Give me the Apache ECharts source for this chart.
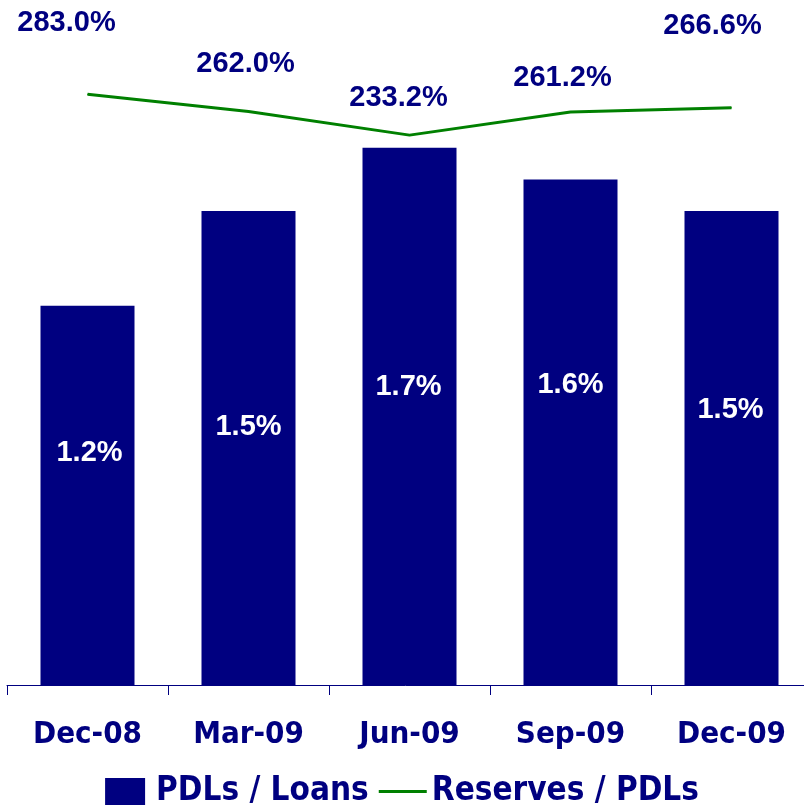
<!DOCTYPE html>
<html>
<head>
<meta charset="utf-8">
<script src="https://cdn.jsdelivr.net/npm/echarts@6/dist/echarts.min.js"></script>
<style>
  html, body { margin: 0; padding: 0; background: #fff; }
  #chart { width: 804px; height: 807px; }
</style>
</head>
<body>
<div id="chart"></div>
<script>
// 数据
const quarters = ['Dec-08', 'Mar-09', 'Jun-09', 'Sep-09', 'Dec-09'];
const pdlsLoans = [1.2, 1.5, 1.7, 1.6, 1.5];
const reservesPdls = [283.0, 262.0, 233.2, 261.2, 266.6];

// 标签偏移（仅用于布局）
const barLabelOffsets = [[2, -42], [0, -21], [-1, -29], [0, -47], [-1, -38]];
const lineLabelOffsets = [[-21, -71], [-3, -47], [-11, -37], [-8, -34], [-19, -82]];

const navy = '#000080';
const green = '#008000';
const labelFont = 'Liberation Sans, Arial, sans-serif';
const axisFont = 'DejaVu Sans Condensed, DejaVu Sans, sans-serif';

function initChart() {
    const chart = echarts.init(document.getElementById('chart'));

    const option = {
        animation: false,
        grid: { left: 7, width: 805, top: 53, bottom: 122, outerBoundsMode: 'none' },
        legend: {
            bottom: -6,
            left: 'center',
            itemWidth: 48,
            itemHeight: 27,
            itemGap: 10,
            textStyle: { color: navy, fontFamily: axisFont, fontWeight: 'bold', fontSize: 33 },
            data: [
                { name: 'PDLs / Loans', icon: 'path://M0,0 L40,0 L40,27 L0,27 Z M44,0' },
                { name: 'Reserves / PDLs', icon: 'path://M0,0 M0,12 L48,12 L48,15 L0,15 Z M48,27' }
            ]
        },
        xAxis: {
            type: 'category',
            data: quarters,
            axisLine: { lineStyle: { color: navy, width: 1 } },
            axisTick: { show: true, length: 10, lineStyle: { color: navy, width: 1 } },
            axisLabel: {
                margin: 34,
                color: navy,
                fontFamily: axisFont,
                fontWeight: 'bold',
                fontSize: 31
            }
        },
        yAxis: [
            { type: 'value', min: 0, max: 2, show: false, splitLine: { show: false } },
            { type: 'value', min: -435, max: 333, show: false, splitLine: { show: false } }
        ],
        series: [
            {
                name: 'PDLs / Loans',
                type: 'bar',
                barWidth: 94,
                itemStyle: { color: navy },
                data: pdlsLoans.map((v, i) => ({
                    value: v,
                    label: { offset: barLabelOffsets[i] }
                })),
                label: {
                    show: true,
                    position: 'inside',
                    color: '#fff',
                    fontFamily: labelFont,
                    fontWeight: 'bold',
                    fontSize: 29,
                    formatter: p => p.value.toFixed(1) + '%'
                }
            },
            {
                name: 'Reserves / PDLs',
                type: 'line',
                yAxisIndex: 1,
                symbol: 'circle',
                symbolSize: 1,
                itemStyle: { color: green },
                lineStyle: { color: green, width: 3 },
                data: reservesPdls.map((v, i) => ({
                    value: v,
                    label: { offset: lineLabelOffsets[i] }
                })),
                label: {
                    show: true,
                    position: 'inside',
                    color: navy,
                    fontFamily: labelFont,
                    fontWeight: 'bold',
                    fontSize: 29,
                    formatter: p => p.value.toFixed(1) + '%'
                }
            }
        ]
    };

    chart.setOption(option);
}

initChart();
</script>
</body>
</html>
